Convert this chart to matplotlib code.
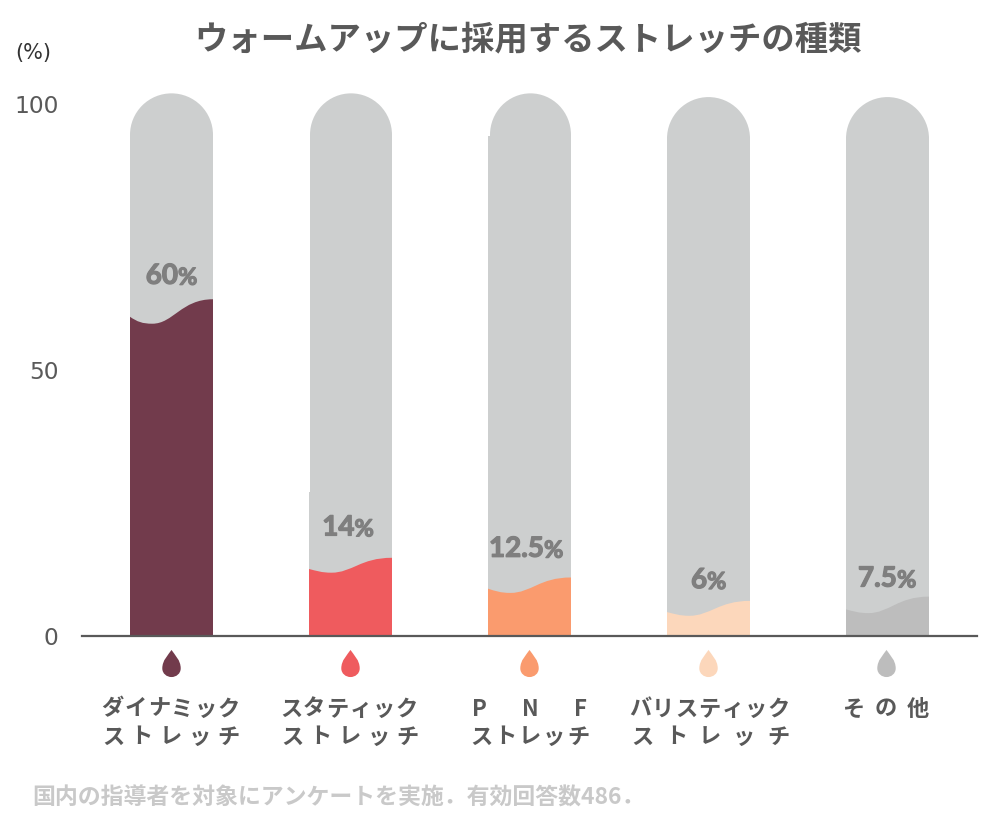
import matplotlib
matplotlib.use('Agg')
import matplotlib.pyplot as plt
import matplotlib.patheffects as pe
from matplotlib.path import Path
from matplotlib.patches import PathPatch, Ellipse

plt.rcParams['font.family'] = ['Noto Sans CJK JP', 'DejaVu Sans']

title = 'ウォームアップに採用するストレッチの種類'
footer = '国内の指導者を対象にアンケートを実施．有効回答数486．'

# values
value_labels = ['60', '14', '12.5', '6', '7.5']
fill_left = [60.0, 12.6, 8.9, 4.5, 5.0]
fill_dip = [58.7, 11.9, 8.1, 3.8, 4.3]
fill_right = [63.3, 14.7, 11.0, 6.6, 7.4]
track_top = [102.0, 102.0, 102.0, 101.3, 101.3]
label_height = [67.7, 20.4, 16.4, 10.5, 10.8]
colors = ['#723b4c', '#ef5b5e', '#fa9b6e', '#fcd7bb', '#bdbdbd']
track_color = '#cdcfcf'
text_color = '#595959'

line1 = ['ダイナミック', 'スタティック', 'PNF', 'バリスティック', 'その他']
line2 = ['ストレッチ', 'ストレッチ', 'ストレッチ', 'ストレッチ', '']
# left/right centre of the first and last character in each line, in pixels
line1_span = [(112, 229), (291, 407), (479, 581), (640, 779), (853, 918)]
line2_span = [(113, 228), (292, 407), (481, 578), (642, 778), None]
# where the number stops and the % starts, pixels from bar centre
split_px = [6.5, 4.0, 14.5, -1.5, 9.5]
# upper part of bars 2 and 3 is a bit narrower on the left, starting at this height
trim_from = [None, 27.0, 94.0, None, None]
trim_px = [0, 1, 2, 0, 0]

bar_width = 83 / 179
px = 1 / 179

fig = plt.figure(figsize=(10, 8.25), dpi=100)
ax = fig.add_axes([0.082, (825 - 636) / 825, 0.895, (636 - 104) / 825])
ax.set_xlim(-0.5, 4.5)
ax.set_ylim(0, 100)
for s in ['top', 'right', 'left']:
    ax.spines[s].set_visible(False)
ax.spines['bottom'].set_color(text_color)
ax.spines['bottom'].set_linewidth(1.6)
ax.set_xticks([])
ax.set_yticks([0, 50, 100])
ax.set_yticklabels(['0', '50', '100'], fontsize=16.8, color=text_color, family='DejaVu Sans')
ax.tick_params(axis='y', length=0, pad=17)

cap_h = (bar_width / 2) * 179 / 5.32

drop = Path(
    [(0, 1.0), (0.25, 0.62), (0.68, 0.25), (0.68, -0.36), (0.68, -0.75), (0.35, -1.0), (0, -1.0),
     (-0.35, -1.0), (-0.68, -0.75), (-0.68, -0.36), (-0.68, 0.25), (-0.25, 0.62), (0, 1.0)],
    [Path.MOVETO] + [Path.CURVE4] * 12)
heavy = [pe.withStroke(linewidth=0.9, foreground='#7f7f7f')]


def px_text(x, y, s, **kw):
    fig.text(x / 1000, 1 - y / 825, s, ha=kw.pop('ha', 'center'), va='center', **kw)


def spaced(span, y, s):
    n = len(s)
    for j, ch in enumerate(s):
        x = span[0] + (span[1] - span[0]) * j / (n - 1)
        px_text(x, y, ch, fontsize=16, fontweight='bold', color=text_color)


for i in range(5):
    x0 = i - bar_width / 2
    x1 = i + bar_width / 2
    base = track_top[i] - cap_h
    trim = trim_px[i] * px
    lower = trim_from[i] if trim_from[i] is not None else base
    ax.bar(i, lower, bar_width, color=track_color, zorder=1)
    if lower < base:
        ax.bar(i + trim / 2, base - lower, bar_width - trim, bottom=lower, color=track_color, zorder=1)
    ax.add_patch(Ellipse((i + trim / 2, base), bar_width - trim, cap_h * 2, color=track_color,
                         lw=0, clip_on=False, zorder=1))
    w = bar_width
    verts = [(x0, 0), (x0, fill_left[i]),
             (x0 + 0.09 * w, fill_dip[i] + 0.35), (x0 + 0.15 * w, fill_dip[i]), (x0 + 0.27 * w, fill_dip[i]),
             (x0 + 0.52 * w, fill_dip[i]), (x0 + 0.62 * w, fill_right[i]), (x1, fill_right[i]),
             (x1, 0), (x0, 0)]
    codes = [Path.MOVETO, Path.LINETO] + [Path.CURVE4] * 6 + [Path.LINETO, Path.CLOSEPOLY]
    ax.add_patch(PathPatch(Path(verts, codes), facecolor=colors[i], lw=0, zorder=2))

    # number and smaller % sign
    off = split_px[i] * 0.72
    ax.annotate(value_labels[i], (i, label_height[i]), xytext=(off, 0), textcoords='offset points',
                ha='right', va='center', fontsize=20, family='Lato', fontweight='bold', color='#7f7f7f',
                zorder=3, path_effects=heavy)
    ax.annotate('%', (i, label_height[i]), xytext=(off, -1), textcoords='offset points',
                ha='left', va='center', fontsize=17, family='Lato', fontweight='bold', color='#7f7f7f',
                zorder=3, path_effects=heavy)

    ax.plot([i - (0.01 if i == 4 else 0.003)], [-5.1], marker=drop, ms=19.5, color=colors[i], mew=0,
            clip_on=False, ls='none', zorder=3)

    spaced(line1_span[i], 709, line1[i])
    if line2[i]:
        spaced(line2_span[i], 737, line2[i])

px_text(528, 40, title, fontsize=24, fontweight='bold', color=text_color)
px_text(33, 53, '(%)', fontsize=15, color='#333333', family='DejaVu Sans')
px_text(32, 798, footer, ha='left', fontsize=16.5, fontweight='bold', color='#c9c9c9')

fig.savefig('out.png', dpi=100)
